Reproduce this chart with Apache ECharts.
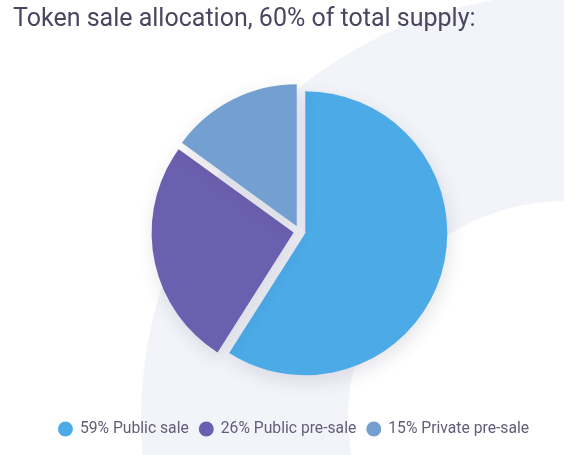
<!DOCTYPE html>
<html>
<head>
<meta charset="utf-8">
<script src="https://cdn.jsdelivr.net/npm/echarts@6/dist/echarts.min.js"></script>
<style>
html,body{margin:0;padding:0;background:#fff;}
#chart{width:587px;height:455px;}
</style>
</head>
<body>
<div id="chart"></div>
<script>
const titleText = 'Token sale allocation, 60% of total supply:';
const categories = ['Public sale', 'Public pre-sale', 'Private pre-sale'];
const values = [59, 26, 15];
const colors = ['#4CAAE7', '#6B5FAF', '#74A0D1'];

const chart = echarts.init(document.getElementById('chart'), null, {renderer: 'canvas'});
const pieData = categories.map((c, i) => ({name: c, value: values[i], selected: true, itemStyle: {color: colors[i]}}));

chart.setOption({
  animation: false,
  backgroundColor: '#ffffff',
  graphic: [
    {type: 'ring', z: -10, shape: {cx: 565, cy: 418, r: 424, r0: 217}, style: {fill: '#F3F4F9'}, silent: true},
    {type: 'rect', z: -9, shape: {x: 564, y: 0, width: 30, height: 455}, style: {fill: '#ffffff'}, silent: true}
  ],
  title: {
    text: titleText,
    left: 8,
    top: 2,
    textStyle: {fontFamily: 'Roboto', fontSize: 25, fontWeight: 'normal', color: '#4A4660'}
  },
  legend: {
    data: categories,
    left: 'center',
    top: 416,
    icon: 'circle',
    itemWidth: 15,
    itemHeight: 15,
    itemGap: 10,
    formatter: function (name) {
      const i = categories.indexOf(name);
      return values[i] + '% ' + name;
    },
    textStyle: {fontFamily: 'Roboto', fontSize: 15.7, color: '#625D78', padding: [0, 0, 0, 2]}
  },
  series: [{
    type: 'pie',
    center: [299.5, 231.5],
    radius: 142,
    startAngle: 90,
    clockwise: true,
    selectedMode: 'multiple',
    selectedOffset: 6,
    label: {show: false},
    labelLine: {show: false},
    emphasis: {disabled: true},
    itemStyle: {
      borderWidth: 0,
      shadowBlur: 18,
      shadowColor: 'rgba(60,60,90,0.14)',
      shadowOffsetX: 2,
      shadowOffsetY: 6
    },
    select: {itemStyle: {borderWidth: 0}},
    data: pieData
  }]
});
</script>
</body>
</html>
